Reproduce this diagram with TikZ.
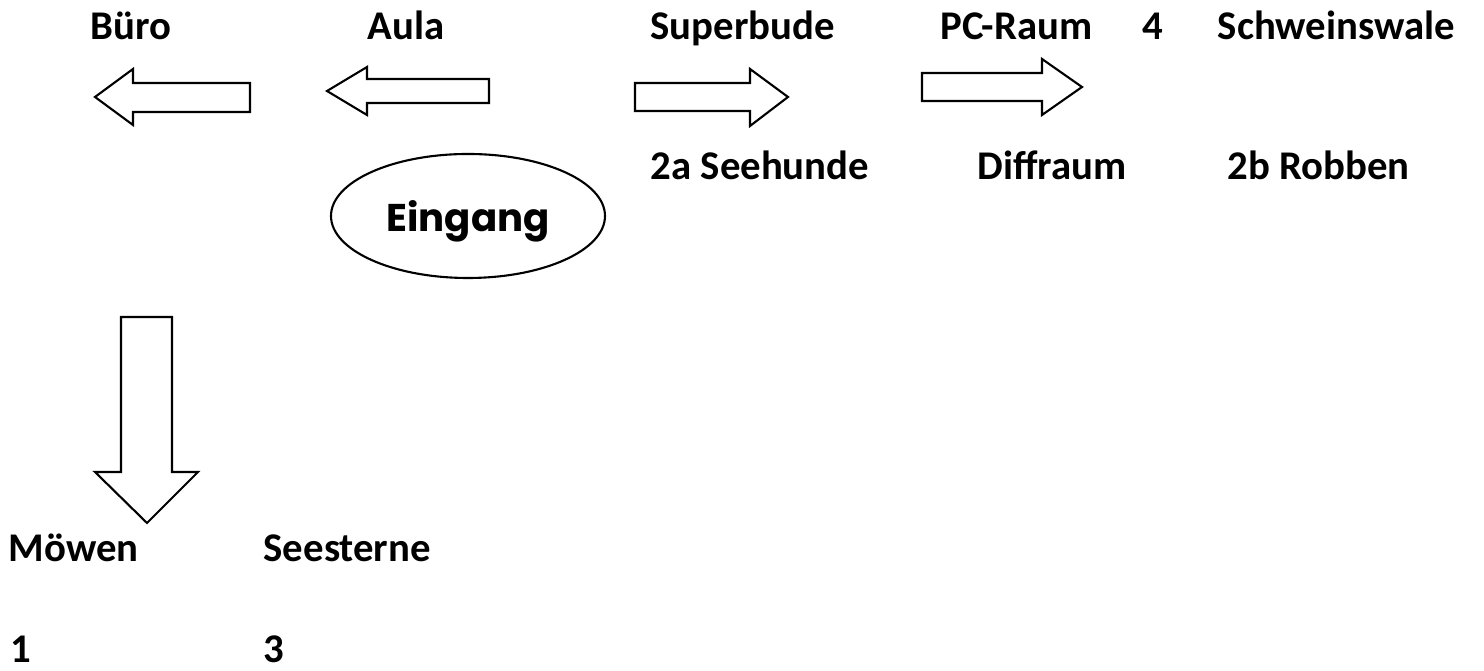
\documentclass[tikz,border=0pt]{standalone}
\usepackage{fontspec}
\setmainfont{Carlito}
\newfontfamily\eingangfont{Poppins}
\usetikzlibrary{shapes.geometric}
\definecolor{ink}{HTML}{000000}

\begin{document}
\begin{tikzpicture}[
  lbl/.style={text=ink, font=\fontsize{11.6}{14}\selectfont\bfseries, anchor=base west, inner sep=0pt},
  blockarrow/.style={draw=ink, fill=white, line width=0.6pt, line join=miter}
]

% Canvas
\useasboundingbox (0,0) rectangle (14.84,-6.71);

% Top row
\node[lbl] (buero) at (0.90,-0.40) {Büro};
\node[lbl] (aula) at (3.67,-0.40) {Aula};
\node[lbl] (superbude) at (6.50,-0.40) {Superbude};
\node[lbl] (pcraum) at (9.40,-0.40) {PC-Raum};
\node[lbl] (vier) at (11.42,-0.40) {4};
\node[lbl] (schweinswale) at (12.17,-0.40) {Schweinswale};

% Block arrows, left side
\draw[blockarrow] (2.50,-0.83) -- (1.33,-0.83) -- (1.33,-0.69) -- (0.95,-0.97)
  -- (1.33,-1.25) -- (1.33,-1.12) -- (2.50,-1.12) -- cycle;
\draw[blockarrow] (4.89,-0.79) -- (3.67,-0.79) -- (3.67,-0.67) -- (3.27,-0.91)
  -- (3.67,-1.15) -- (3.67,-1.03) -- (4.89,-1.03) -- cycle;

% Block arrows, right side
\draw[blockarrow] (6.35,-0.83) -- (7.50,-0.83) -- (7.50,-0.69) -- (7.88,-0.97)
  -- (7.50,-1.26) -- (7.50,-1.11) -- (6.35,-1.11) -- cycle;
\draw[blockarrow] (9.22,-0.73) -- (10.42,-0.73) -- (10.42,-0.59) -- (10.82,-0.87)
  -- (10.42,-1.15) -- (10.42,-1.01) -- (9.22,-1.01) -- cycle;

% Second row
\node[lbl] (seehunde) at (6.50,-1.80) {2a Seehunde};
\node[lbl] (diffraum) at (9.77,-1.80) {Diffraum};
\node[lbl] (robben) at (12.27,-1.80) {2b Robben};

% Entrance
\node[ellipse, draw=ink, line width=0.6pt, minimum width=2.74cm, minimum height=1.24cm,
  inner sep=0pt, text depth=0pt, font=\eingangfont\bfseries\fontsize{11}{13}\selectfont] (eingang) at (4.68,-2.16) {Eingang};

% Down arrow
\draw[blockarrow] (1.21,-3.17) -- (1.72,-3.17) -- (1.72,-4.72) -- (1.98,-4.72)
  -- (1.47,-5.23) -- (0.95,-4.72) -- (1.21,-4.72) -- cycle;

% Bottom rows
\node[lbl] (moewen) at (0.08,-5.62) {Möwen};
\node[lbl] (seesterne) at (2.63,-5.62) {Seesterne};
\node[lbl] (eins) at (0.10,-6.63) {1};
\node[lbl] (drei) at (2.63,-6.63) {3};

\end{tikzpicture}
\end{document}
